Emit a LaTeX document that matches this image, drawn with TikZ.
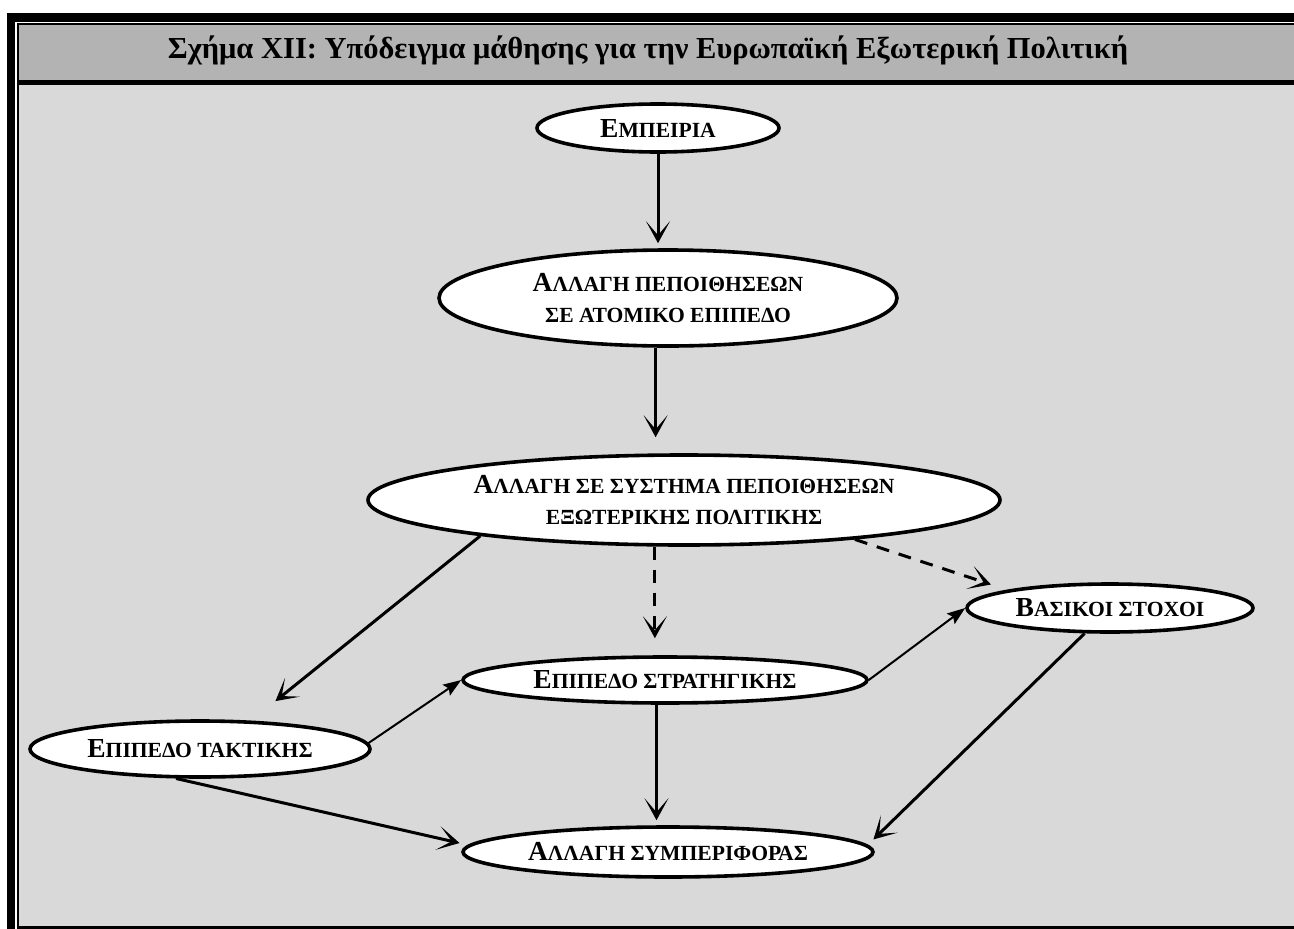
\documentclass[tikz,border=0pt]{standalone}
\usepackage{fontspec}
\setmainfont{Liberation Serif}
\usetikzlibrary{arrows.meta,shapes.geometric}
\definecolor{titlegray}{RGB}{179,179,179}
\definecolor{bodygray}{RGB}{217,217,217}
% Word-style small capitals: a full-size initial and reduced capitals after it
\newcommand\capbig[1]{{\fontsize{27.5}{31}\selectfont #1}}
\newcommand\capsml[1]{{\fontsize{21.6}{31}\selectfont #1}}
\tikzset{
  stage/.style={ellipse, draw=black, line width=3.6pt, fill=white, inner sep=0pt,
    align=center, font=\bfseries\fontsize{21.6}{31}\selectfont},
  bigarrow/.style={line width=3pt, -{Stealth[length=22pt,width=24pt,inset=14pt]}},
  thinarrow/.style={line width=2pt, -{Stealth[length=18pt,width=13pt,inset=3pt]}},
  dasharrow/.style={bigarrow, dash pattern=on 13pt off 10pt}
}
\begin{document}
\begin{tikzpicture}[x=1pt,y=1pt]
\useasboundingbox (0,0) rectangle (1294,-929);
% frame with its offset black border
\fill[white] (0,0) rectangle (1294,-929);
\fill[black] (7,-13) rectangle (1294,-22);
\fill[black] (7,-13) rectangle (15,-929);
\fill[black] (16.7,-23) rectangle (1294,-929);
\fill[titlegray] (18.7,-25) rectangle (1294,-80);
\fill[bodygray] (18.7,-85) rectangle (1294,-925.7);

\node[font=\bfseries\fontsize{30.5}{34}\selectfont] (title) at (648,-50)
  {Σχήμα XII: Υπόδειγμα μάθησης για την Ευρωπαϊκή Εξωτερική Πολιτική};

\node[stage, minimum width=242, minimum height=48] (e1) at (658,-128)
  {\capbig{Ε}\capsml{ΜΠΕΙΡΙΑ}};
\node[stage, minimum width=458, minimum height=96] (e2) at (668,-298)
  {\capbig{Α}\capsml{ΛΛΑΓΗ ΠΕΠΟΙΘΗΣΕΩΝ}\\\capsml{ΣΕ ΑΤΟΜΙΚΟ ΕΠΙΠΕΔΟ}};
\node[stage, minimum width=632, minimum height=90] (e3) at (684,-500)
  {\capbig{Α}\capsml{ΛΛΑΓΗ ΣΕ ΣΥΣΤΗΜΑ ΠΕΠΟΙΘΗΣΕΩΝ}\\\capsml{ΕΞΩΤΕΡΙΚΗΣ ΠΟΛΙΤΙΚΗΣ}};
\node[stage, minimum width=404, minimum height=46] (e4) at (665,-680)
  {\capbig{Ε}\capsml{ΠΙΠΕΔΟ ΣΤΡΑΤΗΓΙΚΗΣ}};
\node[stage, minimum width=340, minimum height=56] (e5) at (200,-749)
  {\capbig{Ε}\capsml{ΠΙΠΕΔΟ ΤΑΚΤΙΚΗΣ}};
\node[stage, minimum width=286, minimum height=48] (e6) at (1110,-608)
  {\capbig{Β}\capsml{ΑΣΙΚΟΙ ΣΤΟΧΟΙ}};
\node[stage, minimum width=410, minimum height=50] (e7) at (668,-852)
  {\capbig{Α}\capsml{ΛΛΑΓΗ ΣΥΜΠΕΡΙΦΟΡΑΣ}};

% connectors
\draw[bigarrow, shorten >=5pt] (e1.south) -- (e1.south |- e2.north);
\draw[bigarrow, shorten >=16pt] (e2.-104) -- (e2.-104 |- e3.north);
\draw[dasharrow, shorten >=17pt] (e3.-122) -- (e3.-122 |- e4.north);
\draw[dasharrow, shorten >=17pt] (e3.-13) -- (e6.170.5);
\draw[bigarrow, shorten >=31pt] (e3.190.7) -- (e5.29.4);
\draw[thinarrow] (e5.2) -- (e4.west);
\draw[thinarrow] (e4.east) -- (e6.west);
\draw[bigarrow, shorten >=9pt] (e5.-129) -- (e7.178);
\draw[bigarrow, shorten >=5pt] (e4.-109) -- (e4.-109 |- e7.north);
\draw[bigarrow, shorten >=8pt] (e6.-135) -- (e7.2);
\end{tikzpicture}
\end{document}
